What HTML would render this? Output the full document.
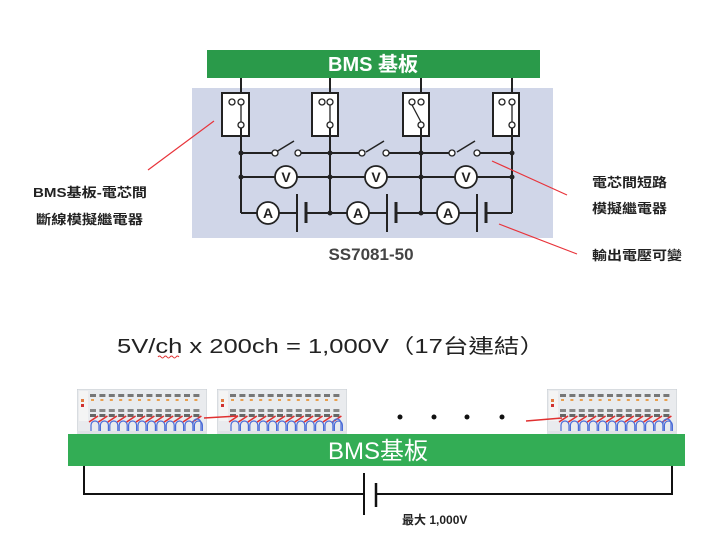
<!DOCTYPE html>
<html><head><meta charset="utf-8"><style>
html,body{margin:0;padding:0;background:#fff}
svg{display:block}
</style></head><body>
<svg width="706" height="535" viewBox="0 0 706 535" xmlns="http://www.w3.org/2000/svg" font-family="Liberation Sans, Noto Sans CJK TC, sans-serif">
<defs>
<symbol id="unit" viewBox="0 0 130 46" width="130" height="46">
  <rect x="0" y="0" width="130" height="46" fill="#e9ebee" stroke="#c8ccd2"/>
  <rect x="2" y="2" width="9" height="30" fill="#f4f4f4"/>
  <rect x="4" y="10" width="3" height="3" fill="#e07a40"/>
  <rect x="4" y="15" width="3" height="3" fill="#d03030"/>
  <g id="cols">
    <g id="c1"><rect x="13" y="5" width="6" height="3" fill="#777"/><rect x="14" y="10" width="3" height="2" fill="#e8a050"/><rect x="13" y="20" width="6" height="3" fill="#888"/><rect x="13" y="25" width="6" height="3" fill="#666"/>
    <path d="M14 44 v-8 a4 4 0 0 1 8 0 v8" fill="none" stroke="#4a6cd8" stroke-width="1.2"/>
    <path d="M12 33 l9 -6" stroke="#e03030" stroke-width="1.6"/></g>
    <use href="#c1" x="9.4"/><use href="#c1" x="18.8"/><use href="#c1" x="28.2"/><use href="#c1" x="37.6"/><use href="#c1" x="47"/>
    <use href="#c1" x="56.4"/><use href="#c1" x="65.8"/><use href="#c1" x="75.2"/><use href="#c1" x="84.6"/><use href="#c1" x="94"/><use href="#c1" x="103.4"/>
  </g>
  <path d="M116 44 v-10 a4 4 0 0 1 8 0 v10" fill="none" stroke="#4a6cd8" stroke-width="1.2"/>
  <rect x="0" y="42" width="130" height="4" fill="#dfe2e6"/>
</symbol>
</defs>

<rect x="192" y="88" width="361" height="150" fill="#d0d6e8"/>
<rect x="207" y="50" width="333" height="28" fill="#2a9a4a"/>
<text x="373" y="71" font-size="20" font-weight="bold" fill="#fff" text-anchor="middle">BMS 基板</text>

<g stroke="#222" stroke-width="2" fill="none">
  <line x1="241" y1="78" x2="241" y2="93"/><line x1="330" y1="78" x2="330" y2="93"/>
  <line x1="421" y1="78" x2="421" y2="93"/><line x1="512" y1="78" x2="512" y2="93"/>
  <rect x="222" y="93" width="27" height="43" fill="#fff"/>
  <rect x="312" y="93" width="26" height="43" fill="#fff"/>
  <rect x="403" y="93" width="26" height="43" fill="#fff"/>
  <rect x="493" y="93" width="26" height="43" fill="#fff"/>
  <line x1="241" y1="128" x2="241" y2="213"/><line x1="330" y1="128" x2="330" y2="213"/>
  <line x1="421" y1="128" x2="421" y2="213"/><line x1="512" y1="128" x2="512" y2="213"/>
  <line x1="241" y1="153" x2="275" y2="153"/><line x1="298" y1="153" x2="362" y2="153"/>
  <line x1="386" y1="153" x2="452" y2="153"/><line x1="477" y1="153" x2="512" y2="153"/>
  <line x1="276" y1="152" x2="294" y2="141" stroke-width="1.5"/>
  <line x1="366" y1="152" x2="384" y2="141" stroke-width="1.5"/>
  <line x1="457" y1="152" x2="475" y2="141" stroke-width="1.5"/>
  <line x1="241" y1="177" x2="512" y2="177"/>
  <line x1="241" y1="213" x2="297" y2="213"/><line x1="306" y1="213" x2="387" y2="213"/>
  <line x1="396" y1="213" x2="477" y2="213"/><line x1="486" y1="213" x2="512" y2="213"/>
  <line x1="297" y1="194" x2="297" y2="232"/><line x1="306" y1="202" x2="306" y2="223" stroke-width="3"/>
  <line x1="387" y1="194" x2="387" y2="232"/><line x1="396" y1="202" x2="396" y2="223" stroke-width="3"/>
  <line x1="477" y1="194" x2="477" y2="232"/><line x1="486" y1="202" x2="486" y2="223" stroke-width="3"/>
</g>
<g stroke="#222" stroke-width="1.3" fill="#fff">
  <circle cx="232" cy="102" r="3"/><circle cx="241" cy="102" r="3"/><circle cx="241" cy="125" r="3"/>
  <line x1="241" y1="105" x2="241" y2="122"/>
  <circle cx="322" cy="102" r="3"/><circle cx="330" cy="102" r="3"/><circle cx="330" cy="125" r="3"/>
  <line x1="330" y1="105" x2="330" y2="122"/>
  <circle cx="412" cy="102" r="3"/><circle cx="421" cy="102" r="3"/><circle cx="421" cy="125" r="3"/>
  <line x1="412" y1="105" x2="421" y2="122"/>
  <circle cx="502" cy="102" r="3"/><circle cx="512" cy="102" r="3"/><circle cx="512" cy="125" r="3"/>
  <line x1="512" y1="105" x2="512" y2="122"/>
  <circle cx="275" cy="153" r="3"/><circle cx="298" cy="153" r="3"/>
  <circle cx="362" cy="153" r="3"/><circle cx="386" cy="153" r="3"/>
  <circle cx="452" cy="153" r="3"/><circle cx="477" cy="153" r="3"/>
</g>
<g fill="#222">
  <circle cx="241" cy="153" r="2.5"/><circle cx="330" cy="153" r="2.5"/><circle cx="421" cy="153" r="2.5"/><circle cx="512" cy="153" r="2.5"/>
  <circle cx="241" cy="177" r="2.5"/><circle cx="330" cy="177" r="2.5"/><circle cx="421" cy="177" r="2.5"/><circle cx="512" cy="177" r="2.5"/>
  <circle cx="330" cy="213" r="2.5"/><circle cx="421" cy="213" r="2.5"/>
</g>
<g stroke="#222" stroke-width="1.8" fill="#fff">
  <circle cx="286" cy="177" r="11"/><circle cx="376" cy="177" r="11"/><circle cx="466" cy="177" r="11"/>
  <circle cx="268" cy="213" r="11"/><circle cx="358" cy="213" r="11"/><circle cx="448" cy="213" r="11"/>
</g>
<g font-size="14" font-weight="bold" fill="#222" text-anchor="middle">
  <text x="286" y="182">V</text><text x="376" y="182">V</text><text x="466" y="182">V</text>
  <text x="268" y="218">A</text><text x="358" y="218">A</text><text x="448" y="218">A</text>
</g>
<text x="371" y="260" font-size="17" font-weight="bold" fill="#444" text-anchor="middle">SS7081-50</text>

<g stroke="#e8333a" stroke-width="1.2">
  <line x1="214" y1="121" x2="148" y2="170"/>
  <line x1="492" y1="161" x2="567" y2="195"/>
  <line x1="499" y1="224" x2="577" y2="254"/>
</g>
<g font-size="13" font-weight="bold" fill="#222">
  <text x="33" y="197" textLength="114" lengthAdjust="spacingAndGlyphs">BMS基板-電芯間</text>
  <text x="36" y="224" textLength="107" lengthAdjust="spacingAndGlyphs">斷線模擬繼電器</text>
  <text x="592" y="187" textLength="75" lengthAdjust="spacingAndGlyphs">電芯間短路</text>
  <text x="592" y="213" textLength="75" lengthAdjust="spacingAndGlyphs">模擬繼電器</text>
  <text x="592" y="260" textLength="90" lengthAdjust="spacingAndGlyphs">輸出電壓可變</text>
</g>

<text x="117" y="353" font-size="20" fill="#222" textLength="428" lengthAdjust="spacingAndGlyphs">5V/ch x 200ch = 1,000V（17台連結）</text>
<path d="M158 357 q1.5 -2 3 0 t3 0 t3 0 t3 0 t3 0 t3 0 t3 0" fill="none" stroke="#e03030" stroke-width="1"/>

<use href="#unit" x="77" y="389"/>
<use href="#unit" x="217" y="389"/>
<use href="#unit" x="547" y="389"/>
<line x1="204" y1="418" x2="238" y2="416" stroke="#e03030" stroke-width="1.5"/>
<line x1="526" y1="421" x2="562" y2="418" stroke="#e03030" stroke-width="1.5"/>
<g fill="#111"><circle cx="400" cy="417" r="2.5"/><circle cx="434" cy="417" r="2.5"/><circle cx="467" cy="417" r="2.5"/><circle cx="502" cy="417" r="2.5"/></g>

<rect x="68" y="434" width="617" height="32" fill="#33ad55"/>
<text x="378" y="459" font-size="24" fill="#fff" text-anchor="middle">BMS基板</text>

<g stroke="#111" stroke-width="2" fill="none">
  <polyline points="84,466 84,494 364,494"/>
  <polyline points="376,494 672,494 672,466"/>
  <line x1="364" y1="473" x2="364" y2="515"/>
  <line x1="376" y1="483" x2="376" y2="507" stroke-width="2.5"/>
</g>
<text x="402" y="524" font-size="12" font-weight="bold" fill="#222">最大 1,000V</text>
</svg>
</body></html>
